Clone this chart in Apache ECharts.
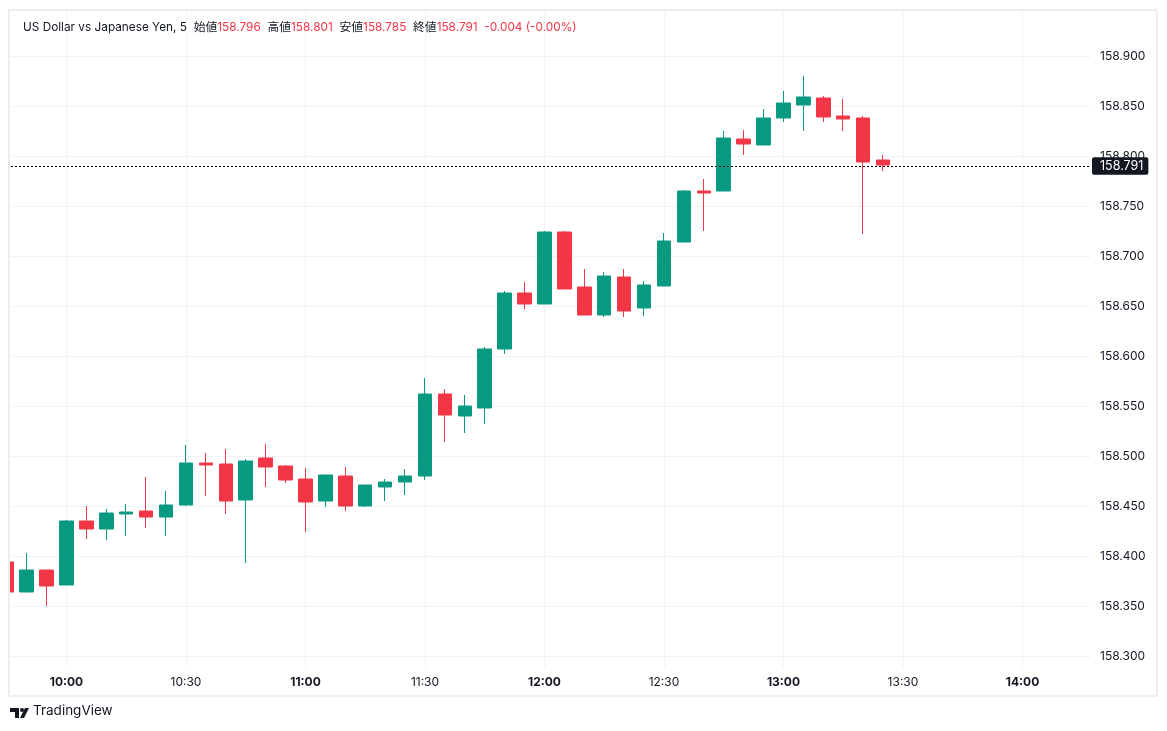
<!DOCTYPE html>
<html>
<head>
<meta charset="utf-8">
<script src="https://cdn.jsdelivr.net/npm/echarts@6/dist/echarts.min.js"></script>
<style>
  html, body { margin: 0; padding: 0; background: #fff; }
  #grafico { width: 1167px; height: 731px; }
</style>
</head>
<body>
<div id="grafico"></div>
<script>
// velas de 5 minutos USD/JPY
const horas = ['09:45', '09:50', '09:55', '10:00', '10:05', '10:10', '10:15', '10:20', '10:25', '10:30',
    '10:35', '10:40', '10:45', '10:50', '10:55', '11:00', '11:05', '11:10', '11:15', '11:20',
    '11:25', '11:30', '11:35', '11:40', '11:45', '11:50', '11:55', '12:00', '12:05', '12:10',
    '12:15', '12:20', '12:25', '12:30', '12:35', '12:40', '12:45', '12:50', '12:55', '13:00',
    '13:05', '13:10', '13:15', '13:20', '13:25'];
const aperturas = [158.394, 158.364, 158.386, 158.371, 158.435, 158.427, 158.442, 158.445, 158.439, 158.451,
    158.493, 158.492, 158.456, 158.498, 158.490, 158.477, 158.455, 158.480, 158.450, 158.469,
    158.474, 158.480, 158.562, 158.540, 158.548, 158.607, 158.663, 158.652, 158.724, 158.669,
    158.641, 158.679, 158.648, 158.670, 158.714, 158.765, 158.765, 158.817, 158.811, 158.838,
    158.851, 158.858, 158.840, 158.838, 158.796];
const cierres = [158.364, 158.386, 158.370, 158.435, 158.427, 158.443, 158.444, 158.439, 158.451, 158.493,
    158.491, 158.455, 158.495, 158.489, 158.476, 158.454, 158.481, 158.450, 158.471, 158.474,
    158.480, 158.562, 158.541, 158.550, 158.607, 158.663, 158.652, 158.724, 158.667, 158.641,
    158.680, 158.645, 158.671, 158.715, 158.765, 158.763, 158.818, 158.812, 158.838, 158.853,
    158.859, 158.839, 158.837, 158.794, 158.791];
const minimos = [158.364, 158.364, 158.350, 158.371, 158.417, 158.416, 158.420, 158.428, 158.420, 158.450,
    158.460, 158.442, 158.393, 158.469, 158.473, 158.424, 158.449, 158.445, 158.449, 158.455,
    158.461, 158.476, 158.514, 158.523, 158.532, 158.602, 158.647, 158.652, 158.667, 158.641,
    158.639, 158.639, 158.640, 158.670, 158.714, 158.725, 158.765, 158.801, 158.811, 158.834,
    158.825, 158.834, 158.825, 158.722, 158.785];
const maximos = [158.394, 158.403, 158.386, 158.436, 158.450, 158.447, 158.452, 158.479, 158.465, 158.511,
    158.503, 158.507, 158.497, 158.512, 158.491, 158.488, 158.481, 158.489, 158.471, 158.477,
    158.487, 158.578, 158.567, 158.561, 158.609, 158.665, 158.674, 158.725, 158.725, 158.687,
    158.684, 158.687, 158.675, 158.723, 158.766, 158.777, 158.825, 158.826, 158.847, 158.865,
    158.880, 158.860, 158.857, 158.840, 158.801];

const ticksPrecio = [158.3, 158.35, 158.4, 158.45, 158.5, 158.55, 158.6, 158.65, 158.7, 158.75, 158.8, 158.85, 158.9];
const ticksHora = ['10:00', '10:30', '11:00', '11:30', '12:00', '12:30', '13:00', '13:30', '14:00'];
const ultimo = 158.791;

const VERDE = '#089981';
const ROJO = '#f23645';
const TEXTO = '#131722';
const FUENTE = 'Inter, "Noto Sans CJK JP", sans-serif';

function aMinutos(h) {
    const [hh, mm] = h.split(':').map(Number);
    return hh * 60 + mm;
}
function aHora(m) {
    const hh = Math.floor(m / 60);
    const mm = Math.round(m % 60);
    return hh + ':' + String(mm).padStart(2, '0');
}

const velas = horas.map((h, i) => [aMinutos(h), aperturas[i], cierres[i], minimos[i], maximos[i]]);
const minutosTicks = ticksHora.map(aMinutos);

const chart = echarts.init(document.getElementById('grafico'));

chart.setOption({
    animation: false,
    backgroundColor: '#fff',
    textStyle: { fontFamily: FUENTE },
    title: {
        left: 18,
        top: 16,
        text: '{n|US Dollar vs Japanese Yen, 5}  {n|始値}{r|158.796}  {n|高値}{r|158.801}  {n|安値}{r|158.785}  {n|終値}{r|158.791}  {r|-0.004 (-0.00%)}',
        textStyle: {
            fontSize: 12,
            fontWeight: 'normal',
            rich: {
                n: { color: TEXTO, fontSize: 11.8, fontFamily: FUENTE },
                r: { color: ROJO, fontSize: 11.8, fontFamily: FUENTE }
            }
        }
    },
    grid: { left: 11, top: 11, right: 76, bottom: 63 },
    xAxis: {
        type: 'value',
        min: 586.07,
        max: 857.2,
        axisLine: { show: false },
        axisTick: { show: false, customValues: minutosTicks },
        splitLine: { show: true, lineStyle: { color: '#f0f3fa', width: 1 } },
        axisLabel: {
            customValues: minutosTicks,
            margin: 8,
            formatter: v => {
                const t = aHora(v);
                return t.endsWith(':00') ? '{b|' + t + '}' : '{m|' + t + '}';
            },
            rich: {
                b: { fontWeight: 'bold', color: TEXTO, fontSize: 12, fontFamily: FUENTE },
                m: { color: TEXTO, fontSize: 12, fontFamily: FUENTE }
            }
        }
    },
    yAxis: {
        type: 'value',
        position: 'right',
        min: 158.288,
        max: 158.945,
        scale: true,
        axisLine: { show: false },
        axisTick: { show: false, customValues: ticksPrecio },
        splitLine: { show: true, lineStyle: { color: '#f0f3fa', width: 1 } },
        axisLabel: {
            customValues: ticksPrecio,
            margin: 9,
            color: TEXTO,
            fontSize: 12,
            fontFamily: FUENTE,
            formatter: v => v.toFixed(3)
        }
    },
    series: [{
        type: 'candlestick',
        clip: true,
        barWidth: 14,
        data: velas,
        itemStyle: {
            color: VERDE,
            color0: ROJO,
            borderColor: VERDE,
            borderColor0: ROJO,
            borderWidth: 1
        },
        markLine: {
            symbol: 'none',
            silent: true,
            lineStyle: { type: [2, 2], color: '#000', width: 1 },
            label: {
                position: 'end',
                distance: 1,
                formatter: () => ultimo.toFixed(3),
                backgroundColor: TEXTO,
                color: '#fff',
                fontSize: 12.5,
                fontFamily: FUENTE,
                padding: [3, 5, 2, 8],
                borderRadius: 2
            },
            data: [{ yAxis: ultimo }]
        }
    }],
    graphic: [
        // tapa la vela cortada a la izquierda del panel
        {
            type: 'rect',
            z: 100,
            shape: { x: 0, y: 0, width: 9, height: 731 },
            style: { fill: '#fff' },
            silent: true
        },
        {
            type: 'rect',
            z: 101,
            shape: { x: 9, y: 10, width: 1148, height: 686 },
            style: { fill: 'none', stroke: '#eceef2', lineWidth: 2 },
            silent: true
        },
        // logo TradingView
        { type: 'polygon', z: 101, shape: { points: [[10, 708], [19, 708], [19, 718], [15, 718], [15, 712], [10, 712]] }, style: { fill: TEXTO } },
        { type: 'circle', z: 101, shape: { cx: 22, cy: 710, r: 2 }, style: { fill: TEXTO } },
        { type: 'polygon', z: 101, shape: { points: [[20, 718], [24, 718], [29, 708], [25, 708]] }, style: { fill: TEXTO } },
        {
            type: 'text',
            z: 101,
            left: 33,
            top: 704,
            style: { text: 'TradingView', fill: TEXTO, fontSize: 13.5, fontFamily: FUENTE }
        }
    ]
});
</script>
</body>
</html>
